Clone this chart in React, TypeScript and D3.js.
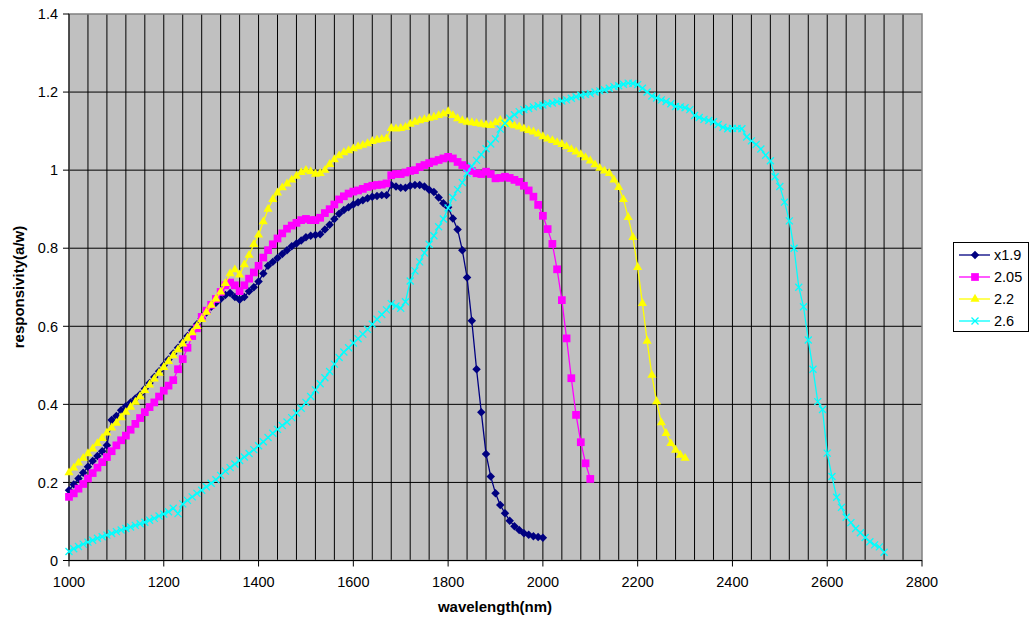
import React from "react";
import * as d3 from "d3";

// wavelength grid of the measurements (nm)
const startNm = 1000;
const stepNm = 10;

const seriesNames = ["x1.9", "2.05", "2.2", "2.6"];

// responsivity (a/w), one value per 10 nm starting at 1000 nm
const x19 = [
  0.18, 0.195, 0.21, 0.225, 0.24, 0.255, 0.268, 0.28, 0.295, 0.36,
  0.37, 0.385, 0.395, 0.405, 0.415, 0.425, 0.44, 0.455, 0.47, 0.485,
  0.5, 0.515, 0.53, 0.545, 0.56, 0.575, 0.59, 0.605, 0.62, 0.635,
  0.65, 0.66, 0.67, 0.68, 0.685, 0.675, 0.668, 0.675, 0.69, 0.7,
  0.715, 0.735, 0.755, 0.765, 0.775, 0.785, 0.795, 0.805, 0.812, 0.82,
  0.828, 0.832, 0.834, 0.836, 0.848, 0.86, 0.875, 0.888, 0.898, 0.905,
  0.912, 0.918, 0.923, 0.928, 0.932, 0.934, 0.936, 0.936, 0.962, 0.958,
  0.955, 0.955, 0.96, 0.962, 0.962, 0.958, 0.95, 0.944, 0.93, 0.915,
  0.905, 0.876, 0.848, 0.795, 0.725, 0.614, 0.49, 0.38, 0.273, 0.215,
  0.172, 0.142, 0.121, 0.102, 0.088, 0.078, 0.07, 0.066, 0.062, 0.06,
  0.058,
];

const x205 = [
  0.163, 0.172, 0.184, 0.196, 0.21, 0.224, 0.238, 0.252, 0.265, 0.28,
  0.295, 0.308, 0.32, 0.335, 0.35, 0.365, 0.38, 0.393, 0.405, 0.42,
  0.435, 0.448, 0.462, 0.49, 0.516, 0.545, 0.575, 0.595, 0.624, 0.64,
  0.655, 0.67, 0.688, 0.705, 0.712, 0.705, 0.69, 0.705, 0.722, 0.738,
  0.755, 0.776, 0.795, 0.81, 0.825, 0.838, 0.85, 0.858, 0.865, 0.872,
  0.875, 0.872, 0.872, 0.878, 0.89, 0.9, 0.912, 0.925, 0.933, 0.94,
  0.945, 0.948, 0.952, 0.957, 0.96, 0.962, 0.963, 0.966, 0.987, 0.99,
  0.99, 0.994, 0.998, 1.0, 1.008, 1.013, 1.018, 1.022, 1.026, 1.03,
  1.034, 1.03, 1.021, 1.013, 1.005, 0.998, 0.992, 0.99, 0.996, 0.99,
  0.979, 0.98, 0.983, 0.98, 0.975, 0.97, 0.96, 0.948, 0.932, 0.911,
  0.883, 0.849, 0.811, 0.746, 0.667, 0.569, 0.467, 0.373, 0.303, 0.249,
  0.209,
];

const x22 = [
  0.225, 0.237, 0.25, 0.262, 0.274, 0.286, 0.3, 0.313, 0.327, 0.34,
  0.352, 0.366, 0.38, 0.393, 0.406, 0.42, 0.436, 0.45, 0.465, 0.48,
  0.495, 0.51, 0.525, 0.54, 0.555, 0.57, 0.584, 0.6, 0.618, 0.636,
  0.654, 0.67, 0.688, 0.71, 0.735, 0.745, 0.732, 0.758, 0.782, 0.81,
  0.834, 0.868, 0.9, 0.925, 0.942, 0.955, 0.965, 0.975, 0.985, 0.994,
  1.0, 0.996, 0.99, 0.992, 1.0, 1.015, 1.027, 1.037, 1.045, 1.05,
  1.055, 1.06, 1.064, 1.068, 1.074, 1.077, 1.079, 1.081, 1.107, 1.106,
  1.107, 1.11, 1.118, 1.123, 1.127, 1.13, 1.133, 1.136, 1.14, 1.144,
  1.15, 1.14, 1.132, 1.127, 1.123, 1.122, 1.12, 1.118, 1.116, 1.115,
  1.122, 1.128, 1.12, 1.117, 1.114, 1.111, 1.106, 1.102, 1.098, 1.093,
  1.086, 1.08, 1.076, 1.071, 1.066, 1.06, 1.053, 1.047, 1.04, 1.032,
  1.024, 1.014, 1.005, 0.998, 0.992, 0.975, 0.956, 0.925, 0.879, 0.828,
  0.751, 0.659, 0.562, 0.475, 0.407, 0.353, 0.326, 0.3, 0.283, 0.27,
  0.262,
];

const x26 = [
  0.023, 0.03, 0.036, 0.042, 0.047, 0.052, 0.057, 0.061, 0.065, 0.069,
  0.074, 0.078, 0.082, 0.086, 0.09, 0.094, 0.098, 0.103, 0.108, 0.114,
  0.119, 0.125, 0.134, 0.12, 0.145, 0.154, 0.163, 0.172, 0.18, 0.189,
  0.198, 0.207, 0.218, 0.229, 0.238, 0.247, 0.256, 0.265, 0.274, 0.284,
  0.294, 0.304, 0.315, 0.326, 0.336, 0.346, 0.355, 0.366, 0.378, 0.39,
  0.405, 0.42, 0.437, 0.453, 0.468, 0.484, 0.503, 0.52, 0.534, 0.545,
  0.557, 0.568, 0.58, 0.592, 0.605, 0.618, 0.63, 0.642, 0.658, 0.652,
  0.646, 0.663, 0.716, 0.742, 0.765, 0.788, 0.81, 0.832, 0.855, 0.875,
  0.903, 0.93, 0.95, 0.968, 0.992, 1.01, 1.025, 1.04, 1.055, 1.067,
  1.08, 1.105, 1.12, 1.133, 1.142, 1.15, 1.155, 1.158, 1.162, 1.165,
  1.167, 1.17, 1.172, 1.175, 1.177, 1.18, 1.184, 1.188, 1.192, 1.194,
  1.196, 1.2, 1.203, 1.206, 1.21, 1.214, 1.216, 1.22, 1.223, 1.222,
  1.219, 1.21, 1.2, 1.19, 1.185, 1.18, 1.176, 1.17, 1.163, 1.162,
  1.16, 1.155, 1.14, 1.135, 1.13, 1.127, 1.124, 1.117, 1.11, 1.106,
  1.107, 1.107, 1.106, 1.085, 1.075, 1.066, 1.054, 1.038, 1.024, 0.983,
  0.958, 0.918, 0.87, 0.8, 0.7, 0.65, 0.565, 0.49, 0.407, 0.387,
  0.275, 0.215, 0.162, 0.136, 0.111, 0.097, 0.082, 0.071, 0.059, 0.048,
  0.04, 0.035, 0.021,
];

const xTicks = [1000, 1200, 1400, 1600, 1800, 2000, 2200, 2400, 2600, 2800];
const yTicks = [0, 0.2, 0.4, 0.6, 0.8, 1, 1.2, 1.4];

const colors = ["#000080", "#FF00FF", "#FFFF00", "#00FFFF"];
const font = "'Liberation Sans', Arial, sans-serif";

const W = 1030;
const H = 621;
const plot = { left: 69, right: 922, top: 14, bottom: 560.5 };

const x = d3.scaleLinear().domain([1000, 2800]).range([plot.left, plot.right]);
const y = d3.scaleLinear().domain([0, 1.4]).range([plot.bottom, plot.top]);

const allSeries = [x19, x205, x22, x26].map((vals, i) => ({
  name: seriesNames[i],
  color: colors[i],
  points: vals.map((v, j) => [startNm + j * stepNm, v] as [number, number]),
}));

const line = d3
  .line<[number, number]>()
  .x((d) => x(d[0]))
  .y((d) => y(d[1]));

const squareSym = d3.symbol().type(d3.symbolSquare);
const triSym = d3.symbol().type(d3.symbolTriangle).size(36);

function Marker({ kind, color }: { kind: number; color: string }) {
  if (kind === 0) {
    // diamond = square turned 45deg
    return <path d={squareSym.size(36)()!} transform="rotate(45)" fill={color} />;
  }
  if (kind === 1) return <path d={squareSym.size(60)()!} fill={color} />;
  if (kind === 2) return <path d={triSym()!} fill={color} />;
  return (
    <path d="M-3.5,-3.5L3.5,3.5M-3.5,3.5L3.5,-3.5" stroke={color} strokeWidth={1.3} fill="none" />
  );
}

export default function App() {
  const vGrid = d3.range(1040, 2800, 40);
  const hGrid = yTicks.slice(1, -1);

  return (
    <svg
      width={W}
      height={H}
      style={{ position: "absolute", left: 0, top: 0, background: "#fff" }}
      fontFamily={font}
    >
      <rect
        x={plot.left}
        y={plot.top}
        width={plot.right - plot.left}
        height={plot.bottom - plot.top}
        fill="#C0C0C0"
      />
      {vGrid.map((g) => (
        <line key={"v" + g} x1={x(g)} x2={x(g)} y1={plot.top} y2={plot.bottom} stroke="#000" strokeWidth={1} />
      ))}
      {hGrid.map((g) => (
        <line key={"h" + g} x1={plot.left} x2={plot.right} y1={y(g)} y2={y(g)} stroke="#000" strokeWidth={1} />
      ))}
      <rect
        x={plot.left}
        y={plot.top}
        width={plot.right - plot.left}
        height={plot.bottom - plot.top}
        fill="none"
        stroke="#808080"
        strokeWidth={1.5}
      />
      {/* axes */}
      <line x1={plot.left} x2={plot.left} y1={plot.top} y2={plot.bottom} stroke="#000" />
      <line x1={plot.left} x2={plot.right} y1={plot.bottom} y2={plot.bottom} stroke="#000" />
      {yTicks.map((t) => (
        <g key={"yt" + t}>
          <line x1={plot.left - 6} x2={plot.left} y1={y(t)} y2={y(t)} stroke="#000" />
          <text x={58} y={y(t)} dy="0.36em" textAnchor="end" fontSize={14.5} fill="#000">
            {t}
          </text>
        </g>
      ))}
      {xTicks.map((t) => (
        <g key={"xt" + t}>
          <line x1={x(t)} x2={x(t)} y1={plot.bottom} y2={plot.bottom + 6} stroke="#000" />
          <text x={x(t)} y={587} textAnchor="middle" fontSize={14.5} fill="#000">
            {t}
          </text>
        </g>
      ))}

      {allSeries.map((s, i) => (
        <g key={s.name}>
          <path d={line(s.points)!} fill="none" stroke={s.color} strokeWidth={1.3} />
          {s.points.map((p, j) => (
            <g key={j} transform={`translate(${x(p[0])},${y(p[1])})`}>
              <Marker kind={i} color={s.color} />
            </g>
          ))}
        </g>
      ))}

      <text x={495} y={612} textAnchor="middle" fontSize={15} fontWeight="bold">
        wavelength(nm)
      </text>
      <text
        transform="translate(24,287) rotate(-90)"
        textAnchor="middle"
        fontSize={15}
        fontWeight="bold"
      >
        responsivity(a/w)
      </text>

      {/* legend */}
      <rect x={953.5} y={242.5} width={75} height={89} fill="#fff" stroke="#000" />
      {allSeries.map((s, i) => {
        const ly = 255 + i * 22;
        return (
          <g key={"lg" + s.name}>
            <line x1={959} x2={990} y1={ly} y2={ly} stroke={s.color} strokeWidth={1.3} />
            <g transform={`translate(975,${ly})`}>
              <Marker kind={i} color={s.color} />
            </g>
            <text x={994} y={ly} dy="0.36em" fontSize={14.5} fill="#000">
              {s.name}
            </text>
          </g>
        );
      })}
    </svg>
  );
}
